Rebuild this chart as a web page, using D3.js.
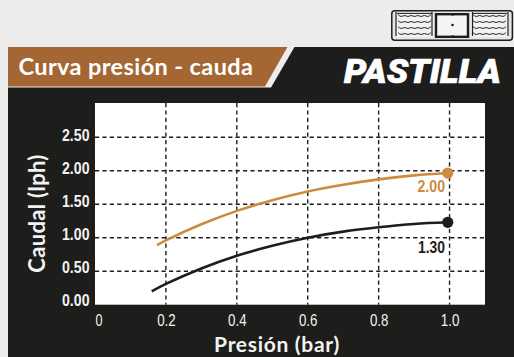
<!DOCTYPE html>
<html><head><meta charset="utf-8">
<script src="https://cdn.jsdelivr.net/npm/d3@7"></script>
<style>html,body{margin:0;padding:0;background:#ececec}svg{display:block}</style>
</head><body><div id="c"></div>
<script>
const pressureTicks=[0,0.2,0.4,0.6,0.8,1.0];
const pressureLabels=["0","0.2","0.4","0.6","0.8","1.0"];
const flowTicks=[0,0.5,1,1.5,2,2.5];
const flowGrid=[0.5,1,1.5,2,2.5];
const flowLabels=["0.00","0.50","1.00","1.50","2.00","2.50"];
const orangeX=[0.175,0.2,0.3,0.4,0.5,0.6,0.7,0.8,0.9,0.995];
const orangeY=[0.89,0.96,1.20,1.40,1.56,1.69,1.79,1.87,1.93,1.965];
const blackX=[0.16,0.2,0.3,0.4,0.5,0.6,0.7,0.8,0.9,0.995];
const blackY=[0.20,0.31,0.54,0.73,0.88,1.00,1.09,1.155,1.205,1.23];
const orangeLabel="2.00", blackLabel="1.30";
const title="Curva presión - cauda", product="PASTILLA";
const xTitle="Presión (bar)", yTitle="Caudal (lph)";
const W=514,H=357,ORANGE="#ce8a3f",BLACK="#1d1d1b",BROWN="#a46733",LIGHT="#f2f2f2";
const svg=d3.select("#c").append("svg").attr("width",W).attr("height",H);
svg.append("rect").attr("width",W).attr("height",H).attr("fill","#ececec");
svg.append("rect").attr("x",8).attr("y",47).attr("width",W-8).attr("height",H-47).attr("fill",BLACK);
svg.append("polygon").attr("points","288,47 294.5,47 271,87.5 8,87.5 8,47").attr("fill","#ececec");
svg.append("polygon").attr("points","8,47 287.5,47 265,86.6 8,86.6").attr("fill",BROWN);
svg.append("text").attr("x",18.5).attr("y",75).attr("font-family","Lato").attr("font-weight",700).attr("font-size",23.5).attr("letter-spacing",0.4).attr("fill","#fff").text(title);
svg.append("text").attr("x",501).attr("y",83.3).attr("text-anchor","end").attr("font-family","Roboto").attr("font-weight",900).attr("font-style","italic").attr("font-size",33).attr("fill","#fff").attr("stroke","#fff").attr("stroke-width",0.7).attr("textLength",157).attr("lengthAdjust","spacingAndGlyphs").text(product);
// icon
const ic=svg.append("g").attr("fill","none").attr("stroke",BLACK);
ic.append("rect").attr("x",391.8).attr("y",10.8).attr("width",120.6).attr("height",29.4).attr("rx",3).attr("fill","#e6e6e6").attr("stroke-width",1.5);
[[396,434],[471,509]].forEach(([a,b])=>ic.append("rect").attr("x",a).attr("y",13).attr("width",b-a).attr("height",24).attr("fill","#f2f2f2").attr("stroke","none"));
const wave=d3.line().curve(d3.curveBasis);
[[398,431],[473,506]].forEach(([a,b])=>{
  [16,22,28,34].forEach(yy=>{
    const pts=d3.range(0,11).map(i=>[a+(b-a)*i/10,yy+(i%2?1.4:-1.4)]);
    ic.append("path").attr("d",wave(pts)).attr("stroke-width",1);
  });
  ic.append("line").attr("x1",a-1).attr("x2",b+1).attr("y1",13.4).attr("y2",13.4).attr("stroke-width",1);
});
[396,432,472.5,508].forEach(v=>ic.append("line").attr("x1",v).attr("x2",v).attr("y1",12).attr("y2",36).attr("stroke-width",1.2));
ic.append("rect").attr("x",436).attr("y",14.2).attr("width",32).attr("height",22.6).attr("fill","#f4f4f4").attr("stroke-width",2.4);
[14.5,25,36.5].forEach(v=>ic.append("circle").attr("cx",452.5).attr("cy",v).attr("r",1.3).attr("fill",BLACK).attr("stroke","none"));
// plot
const L=95,R=485,T=103,B=304.7;
const x=d3.scaleLinear().domain([0,1.1]).range([L,R]);
const y=d3.scaleLinear().domain([0,3.01]).range([B,T]);
const labelY=d3.scaleLinear().domain([0,2.5]).range([305.6,141]);
svg.append("rect").attr("x",L).attr("y",T).attr("width",R-L).attr("height",B-T).attr("fill","#fff");
const g=svg.append("g").attr("stroke",BLACK).attr("stroke-width",1.4).attr("stroke-dasharray","4.2 3.2");
g.selectAll(".h").data(flowGrid).join("line").attr("x1",L).attr("x2",R).attr("y1",d=>y(d)).attr("y2",d=>y(d));
g.selectAll(".v").data(pressureTicks.slice(1)).join("line").attr("x1",d=>x(d)).attr("x2",d=>x(d)).attr("y1",T).attr("y2",B);
const line=d3.line().curve(d3.curveCatmullRom);
const draw=(xs,ys,c,sw)=>{
  svg.append("path").attr("d",line(xs.map((v,i)=>[x(v),y(ys[i])]))).attr("fill","none").attr("stroke",c).attr("stroke-width",sw);
  svg.append("circle").attr("cx",x(xs[xs.length-1])).attr("cy",y(ys[ys.length-1])).attr("r",5.6).attr("fill",c);
};
draw(orangeX,orangeY,ORANGE,2.6);
draw(blackX,blackY,BLACK,2.6);
const font="'Liberation Sans'";
const lab=(t,px,py,c,a,w,s,len)=>svg.append("text").attr("x",px).attr("y",py).attr("text-anchor",a).attr("font-family",font).attr("font-weight",w).attr("font-size",s).attr("fill",c).attr("textLength",len).attr("lengthAdjust","spacingAndGlyphs").text(t);
lab(orangeLabel,445,192,ORANGE,"end",700,16,27.5);
lab(blackLabel,445,253.3,BLACK,"end",700,16,27);
flowTicks.forEach((v,i)=>lab(flowLabels[i],89.5,labelY(v),LIGHT,"end",700,15.8,27.5));
pressureTicks.forEach((v,i)=>lab(pressureLabels[i],i==0?99:x(v)+0.5,326,LIGHT,"middle",400,16.5,i==0?7:18.5));
svg.append("text").attr("x",277).attr("y",351.5).attr("text-anchor","middle").attr("font-family","Lato").attr("font-weight",700).attr("font-size",21).attr("letter-spacing",0.7).attr("fill",LIGHT).text(xTitle);
svg.append("text").attr("transform","translate(45,213.5) rotate(-90)").attr("text-anchor","middle").attr("font-family","Lato").attr("font-weight",700).attr("font-size",22).attr("letter-spacing",0.3).attr("fill",LIGHT).text(yTitle);
</script></body></html>
